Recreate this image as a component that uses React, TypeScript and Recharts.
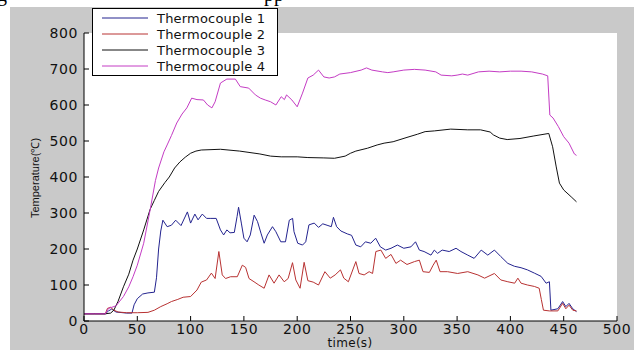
import React from 'react'
import { LineChart, Line, XAxis, YAxis, CartesianGrid, Legend } from 'recharts'

// time (s) / temperature (°C), one pair of arrays per thermocouple
const tc1Time = [0, 10, 20, 23, 26, 30, 40, 45, 47, 50, 55, 60, 66, 68, 70, 72, 74, 78, 82, 86, 91, 97, 100, 104, 107, 111, 115, 119, 124, 128, 131, 134, 137, 141, 143.6, 145, 147.6, 150, 153, 156, 159.6, 162.8, 166, 169, 172, 176.8, 180, 184.6, 189, 192.6, 195.7, 197, 200.5, 205, 208, 211, 216, 220, 224, 228, 232, 234, 237, 241, 247, 251, 255, 259.6, 264, 269, 273.6, 278, 283, 288, 294, 300, 306.7, 311, 314.6, 319, 325.5, 328.6, 331.7, 336, 342.6, 349, 353.6, 360, 366, 372.6, 378.8, 385, 391, 397.6, 403.8, 410, 416, 422.5, 428.8, 433.5, 436.6, 438, 444.5, 449, 452, 455, 458.5, 462]
const tc1Temp = [20, 20, 20, 28, 33, 25, 22, 22, 45, 62, 75, 78, 80, 120, 200, 250, 280, 262, 266, 280, 265, 303, 272, 297, 281, 297, 285, 285, 285, 253, 239, 253, 245, 246, 290, 316, 272, 230, 220, 239, 294, 276, 244, 216, 239, 262, 248, 220, 220, 280, 285, 248, 216, 211, 220, 267, 272, 260, 270, 266, 262, 288, 262, 250, 242, 238, 211, 206, 220, 216, 230, 206, 197, 202, 211, 202, 206, 220, 197, 193, 183, 197, 188, 197, 193, 202, 193, 183, 174, 197, 183, 197, 179, 160, 152, 148, 142, 133, 124, 105, 109, 30, 34, 54, 40, 49, 34, 26]

const tc2Time = [0, 10, 20, 22, 25, 28, 32, 40, 50, 60, 66, 72, 78, 82, 88, 93, 100, 106, 110, 115, 119.5, 123, 126.5, 129.7, 132.8, 137.5, 143.8, 148.5, 151.6, 154.8, 159.5, 164, 169, 173.6, 178.3, 183, 187.8, 191.5, 195.6, 198.7, 202.7, 206.5, 210, 215, 220, 226, 231, 235.6, 240.6, 243.7, 248, 255, 258, 262.8, 267.5, 270.7, 273.8, 278.5, 283, 288, 292.6, 297, 303, 310, 314.6, 318, 324, 327.5, 330.4, 334, 341, 350.5, 360, 369.5, 375.8, 385, 391, 397.6, 404, 407, 410, 416, 422.5, 427, 429, 431, 436.6, 444.5, 449, 452, 455, 458.5, 462]
const tc2Temp = [20, 20, 20, 35, 38, 30, 25, 23, 23, 24, 30, 40, 48, 54, 60, 66, 68, 86, 108, 114, 133, 118, 193, 128, 118, 123, 123, 155, 149, 118, 109, 100, 91, 128, 105, 128, 109, 118, 162, 114, 91, 163, 112, 108, 100, 137, 119, 128, 142, 119, 109, 165, 132, 128, 137, 132, 193, 197, 174, 185, 160, 169, 157, 165, 169, 137, 135, 155, 169, 137, 137, 132, 137, 128, 119, 132, 114, 109, 105, 119, 105, 100, 96, 91, 60, 30, 28, 28, 49, 34, 44, 30, 28]

const tc3Time = [0, 10, 20, 25, 28, 32, 37, 42, 46, 50, 56, 62, 66, 70, 76, 80, 85, 90, 95, 100, 105, 110, 128, 146, 165, 175, 185, 200, 210, 225, 235, 245, 250, 255, 266, 275, 281.5, 290, 303, 313, 320, 328.6, 344, 360, 372, 381, 384, 390, 397, 409, 422, 436, 439.6, 443, 446, 450, 457, 462]
const tc3Temp = [20, 20, 20, 22, 30, 55, 95, 130, 169, 200, 253, 310, 335, 360, 385, 400, 425, 442, 455, 466, 472, 475, 477, 472, 464, 458, 456, 456, 454, 453, 452, 458, 466, 472, 480, 489, 494, 498, 510, 519, 526, 528, 533, 531, 531, 525, 517, 508, 504, 507, 514, 521, 484, 428, 383, 364, 345, 331]

const tc4Time = [0, 10, 20, 23, 26, 30, 37, 42, 46, 50, 56, 62, 67, 70, 75, 78, 82, 87, 92, 96.5, 101, 106, 112, 116, 120, 123, 128, 134, 142, 146.6, 154.5, 160.8, 165.5, 170, 175, 180, 185, 188, 190, 195, 200, 205, 210, 215, 220, 225, 230, 235, 240, 250, 260, 265, 270, 280, 285, 290, 300, 310, 320, 330, 335, 345, 350, 355, 360, 370, 380, 390, 400, 410, 420, 430, 435, 437, 440, 445, 450, 455, 460, 462]
const tc4Temp = [20, 20, 20, 35, 38, 42, 68, 95, 123, 155, 216, 308, 390, 425, 470, 489, 515, 550, 575, 592, 619, 615, 614, 600, 592, 609, 661, 672, 672, 651, 647, 628, 619, 614, 609, 600, 623, 615, 628, 614, 595, 633, 675, 683, 697, 678, 675, 678, 686, 690, 697, 703, 697, 692, 690, 692, 697, 699, 697, 692, 683, 681, 683, 686, 683, 692, 694, 692, 694, 694, 692, 686, 681, 572, 564, 540, 512, 494, 464, 460]

const seriesNames = ['Thermocouple 1', 'Thermocouple 2', 'Thermocouple 3', 'Thermocouple 4']
const xTicks = [0, 50, 100, 150, 200, 250, 300, 350, 400, 450, 500]
const yTicks = [0, 100, 200, 300, 400, 500, 600, 700, 800]

const COLORS = ['#23238f', '#b83232', '#111111', '#c43cc4']
const TICK_FONT = 'DejaVu Sans, sans-serif'

const toPoints = (time: number[], temp: number[]) => time.map((t, i) => ({ t, v: temp[i] }))

const series = [
  toPoints(tc1Time, tc1Temp),
  toPoints(tc2Time, tc2Temp),
  toPoints(tc3Time, tc3Temp),
  toPoints(tc4Time, tc4Temp),
]

// matlab style ticks: tick marks point into the plot
const YTick = (props: any) => {
  const { x, y, payload } = props
  return (
    <g>
      <line x1={x} x2={x + 5} y1={y} y2={y} stroke="#000" />
      <text x={x - 6} y={y} dy={5} textAnchor="end" fontSize={14} letterSpacing={0.6} fontFamily={TICK_FONT} fill="#111">
        {payload.value}
      </text>
    </g>
  )
}

const XTick = (props: any) => {
  const { x, y, payload } = props
  return (
    <g>
      <line x1={x} x2={x} y1={y} y2={y - 5} stroke="#000" />
      <text x={x} y={y + 13} textAnchor="middle" fontSize={14} letterSpacing={0.6} fontFamily={TICK_FONT} fill="#111">
        {payload.value}
      </text>
    </g>
  )
}

const LegendBox = (props: any) => {
  const items = props.payload || []
  return (
    <svg width={186} height={68} style={{ display: 'block' }}>
      <rect x={0.5} y={0.5} width={185} height={67} fill="#fff" stroke="#000" />
      {items.map((item: any, i: number) => (
        <g key={item.value}>
          <line x1={10} x2={56} y1={10 + i * 16} y2={10 + i * 16} stroke={item.color} />
          <text x={65} y={10 + i * 16} dy={4.5} fontSize={13} letterSpacing={0.2} fontFamily={TICK_FONT} fill="#111">
            {item.value}
          </text>
        </g>
      ))}
    </svg>
  )
}

export default function App() {
  return (
    <div style={{ position: 'absolute', left: 0, top: 0, width: 634, height: 350, background: '#fff', overflow: 'hidden' }}>
      {/* bottom of the cropped caption line above the figure */}
      <svg width={634} height={8} style={{ position: 'absolute', left: 0, top: 0 }}>
        <text x={-3} y={1} fontSize={20} fontFamily="Liberation Serif, serif">g</text>
        <text x={264} y={1} fontSize={20} fontFamily="Liberation Serif, serif">pp</text>
      </svg>
      <div style={{ position: 'absolute', left: 10, top: 7, width: 624, height: 343, background: '#c9c9c9' }} />
      <div style={{ position: 'absolute', left: 0, top: 0 }}>
        <LineChart width={634} height={350} margin={{ top: 33, right: 17, left: 0, bottom: 0 }}>
          <CartesianGrid horizontal={false} vertical={false} fill="#ffffff" fillOpacity={1} />
          <XAxis
            dataKey="t"
            type="number"
            domain={[0, 500]}
            ticks={xTicks}
            height={29}
            axisLine={{ stroke: '#000' }}
            tickLine={false}
            tickSize={0}
            tickMargin={0}
            tick={<XTick />}
            interval={0}
            allowDuplicatedCategory={false}
          />
          <YAxis
            type="number"
            domain={[0, 800]}
            ticks={yTicks}
            width={84}
            axisLine={{ stroke: '#000' }}
            tickLine={false}
            tickSize={0}
            tickMargin={0}
            tick={<YTick />}
            interval={0}
          />
          <Legend
            content={<LegendBox />}
            layout="horizontal"
            align="center"
            verticalAlign="middle"
            wrapperStyle={{ left: 92, top: 8, width: 186, height: 68 }}
          />
          {series.map((data, i) => (
            <Line
              key={seriesNames[i]}
              data={data}
              dataKey="v"
              name={seriesNames[i]}
              type="linear"
              stroke={COLORS[i]}
              strokeWidth={1}
              dot={false}
              activeDot={false}
              isAnimationActive={false}
            />
          ))}
        </LineChart>
      </div>
      <svg width={634} height={350} style={{ position: 'absolute', left: 0, top: 0, pointerEvents: 'none' }}>
        <text x={350} y={347} textAnchor="middle" fontSize={12} letterSpacing={0.3} fontFamily={TICK_FONT} fill="#111">time(s)</text>
        <text
          x={39}
          y={178}
          textAnchor="middle"
          fontSize={11}
          fontFamily="Liberation Sans, Arial, sans-serif"
          fill="#111"
          transform="rotate(-90 39 178)"
        >
          Temperature(℃)
        </text>
      </svg>
    </div>
  )
}
